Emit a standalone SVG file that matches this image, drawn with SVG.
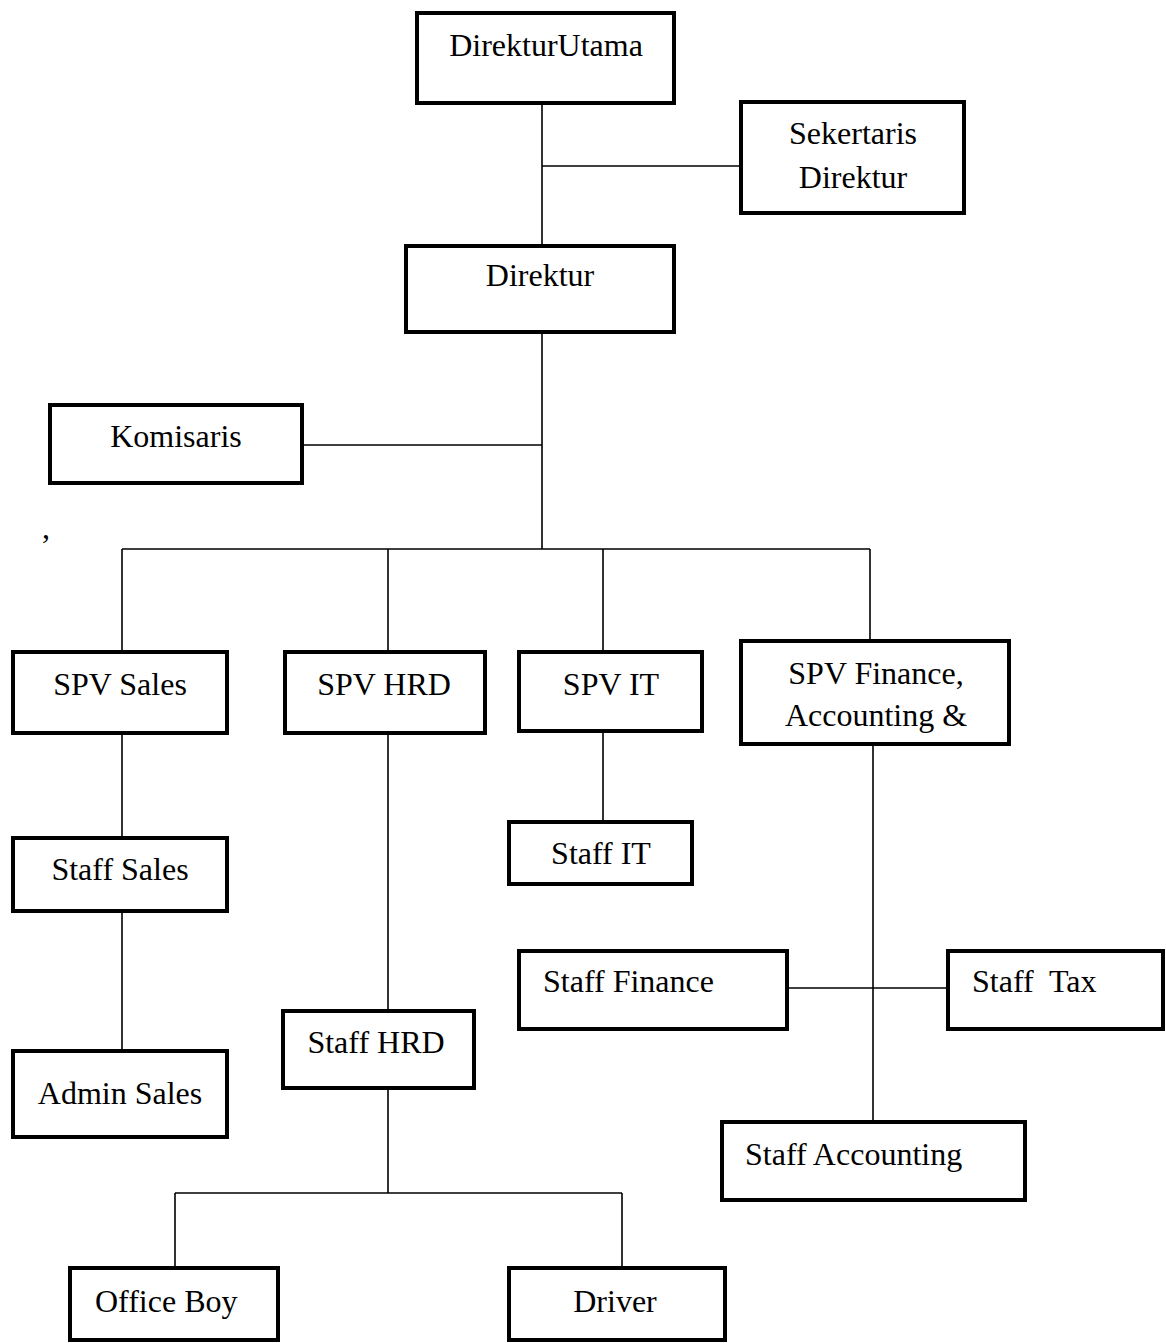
<svg xmlns="http://www.w3.org/2000/svg" width="1166" height="1343" viewBox="0 0 1166 1343">
<style>
.box{fill:#fff;stroke:#000;stroke-width:4}
.t{font-family:"Liberation Serif",serif;font-size:32px;fill:#000}
.c{text-anchor:middle}
.ln{stroke:#000;stroke-width:1.6;fill:none}
</style>
<rect width="1166" height="1343" fill="#fff"/>
<g id="connectors">
<path class="ln" d="M542 103V246M542 166H741M542 332V549M302 445H542M122 549H870M122 549V652M388 549V652M603 549V652M870 549V641"/>
<path class="ln" d="M122 733V838M122 911V1051M388 733V1011M603 731V822M873 744V1122M787 988H948M388 1088V1193M175 1193H622M175 1193V1268M622 1193V1268"/>
</g>
<g id="direktur-utama"><rect class="box" x="417" y="13" width="257" height="90"/><text class="t c" x="546" y="56">DirekturUtama</text></g>
<g id="sekertaris"><rect class="box" x="741" y="102" width="223" height="111"/><text class="t c" x="853" y="144">Sekertaris</text><text class="t c" x="853" y="188">Direktur</text></g>
<g id="direktur"><rect class="box" x="406" y="246" width="268" height="86"/><text class="t c" x="540" y="286">Direktur</text></g>
<g id="komisaris"><rect class="box" x="50" y="405" width="252" height="78"/><text class="t c" x="176" y="447">Komisaris</text></g>
<text class="t" x="42" y="538">,</text>
<g id="spv-sales"><rect class="box" x="13" y="652" width="214" height="81"/><text class="t c" x="120" y="695">SPV Sales</text></g>
<g id="spv-hrd"><rect class="box" x="285" y="652" width="200" height="81"/><text class="t c" x="384" y="695">SPV HRD</text></g>
<g id="spv-it"><rect class="box" x="519" y="652" width="183" height="79"/><text class="t c" x="611" y="695">SPV IT</text></g>
<g id="spv-finance"><rect class="box" x="741" y="641" width="268" height="103"/><text class="t c" x="876" y="684">SPV Finance,</text><text class="t c" x="876" y="726">Accounting &amp;</text></g>
<g id="staff-sales"><rect class="box" x="13" y="838" width="214" height="73"/><text class="t c" x="120" y="880">Staff Sales</text></g>
<g id="staff-it"><rect class="box" x="509" y="822" width="183" height="62"/><text class="t c" x="601" y="864">Staff IT</text></g>
<g id="admin-sales"><rect class="box" x="13" y="1051" width="214" height="86"/><text class="t c" x="120" y="1104">Admin Sales</text></g>
<g id="staff-hrd"><rect class="box" x="283" y="1011" width="191" height="77"/><text class="t c" x="376" y="1053">Staff HRD</text></g>
<g id="staff-finance"><rect class="box" x="519" y="951" width="268" height="78"/><text class="t" x="543" y="992">Staff Finance</text></g>
<g id="staff-tax"><rect class="box" x="948" y="951" width="215" height="78"/><text class="t" x="972" y="992" xml:space="preserve">Staff  Tax</text></g>
<g id="staff-accounting"><rect class="box" x="722" y="1122" width="303" height="78"/><text class="t" x="745" y="1165">Staff Accounting</text></g>
<g id="office-boy"><rect class="box" x="70" y="1268" width="208" height="72"/><text class="t" x="95" y="1312">Office Boy</text></g>
<g id="driver"><rect class="box" x="509" y="1268" width="216" height="72"/><text class="t c" x="615" y="1312">Driver</text></g>
</svg>
